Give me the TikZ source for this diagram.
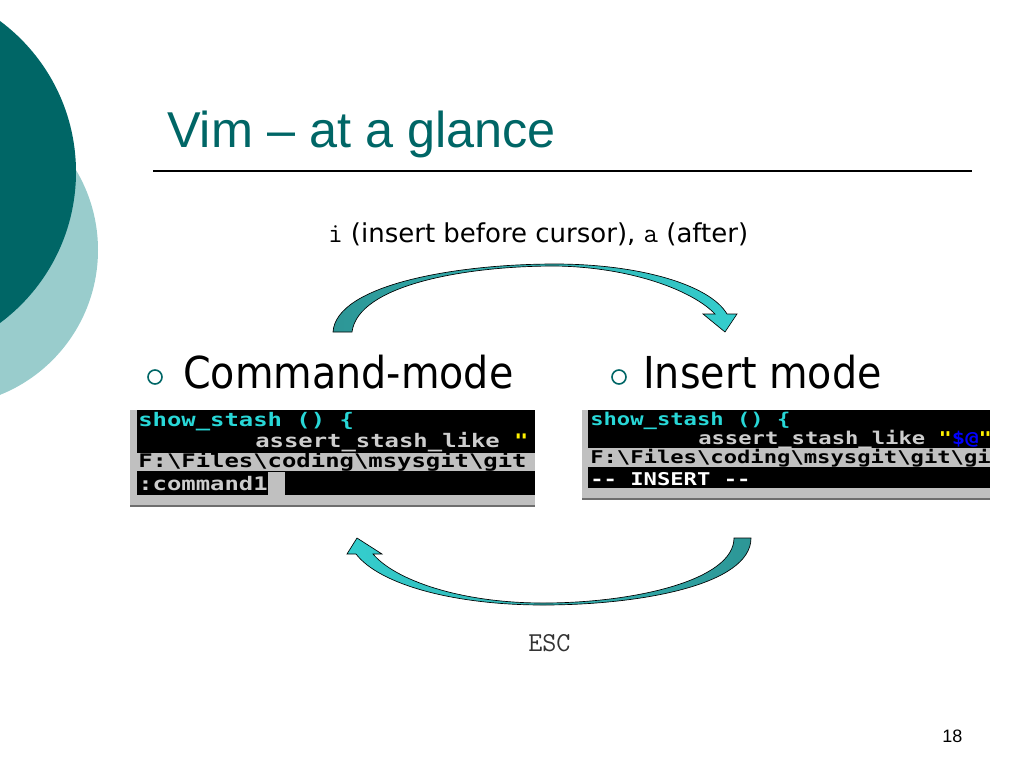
\documentclass[tikz,border=0pt]{standalone}
\usepackage{fontspec}
\setmainfont{DejaVu Sans}
\newfontfamily\titlefont{Liberation Sans}
\newfontfamily\modefont[FakeStretch=0.9]{DejaVu Sans}
\newfontfamily\termfont[FakeStretch=1.28]{DejaVu Sans Mono}
\newfontfamily\termfontR[FakeStretch=1.26]{DejaVu Sans Mono}
\usepackage{xcolor}
\definecolor{slideteal}{RGB}{0,102,102}
\definecolor{paleteal}{RGB}{153,204,204}
\definecolor{arrowdark}{RGB}{45,150,150}
\definecolor{arrowlight}{RGB}{52,206,206}
\definecolor{termcyan}{RGB}{40,215,215}
\definecolor{termgray}{RGB}{192,192,192}
\definecolor{termlight}{RGB}{205,205,205}
\definecolor{frameedge}{RGB}{110,110,110}

\begin{document}
\begin{tikzpicture}[x=0.75pt, y=-0.75pt]
\tikzstyle{every node}=[inner sep=0pt, anchor=base west]
\tikzstyle{termL}=[font=\termfont\bfseries\fontsize{14}{16}\selectfont]
\tikzstyle{termR}=[font=\termfontR\bfseries\fontsize{13.2}{15}\selectfont]
\tikzstyle{modearrow}=[draw=black, line width=0.5pt]
\tikzstyle{bullet}=[draw=slideteal, line width=1.2pt]

\useasboundingbox (0,0) rectangle (1024,768);
\clip (0,0) rectangle (1024,768);

\fill[paleteal] (-58,250) circle [radius=156]; % back circle
\fill[slideteal] (-112,172) circle [radius=188]; % front circle

\node[font=\titlefont\fontsize{37.8}{40}\selectfont, text=slideteal] (title) at (167,147) {Vim – at a glance};
\draw[line width=1.1pt] (153,171) -- (972,171);

\node[font=\fontsize{19.5}{22}\selectfont] (insertkeys) at (328,242) {{\ttfamily\fontsize{21}{22}\selectfont i} (insert before cursor), {\ttfamily\fontsize{21}{22}\selectfont a} (after)};

% i / a arrow
\draw[modearrow, left color=arrowdark, right color=arrowlight]
  (333,332) .. controls (336,285) and (455,264) .. (555,264)
  .. controls (640,264) and (710,285) .. (727,314)
  -- (737,314) -- (725,332) -- (703,314) -- (715,314)
  .. controls (692,290) and (630,267) .. (555,266)
  .. controls (465,266) and (358,285) .. (352,332) -- cycle;

\draw[bullet] (155,377) circle [radius=7];
    \node[font=\modefont\fontsize{33}{36}\selectfont] (cmdmode) at (183,388) {Command-mode};
\draw[bullet] (619,377) circle [radius=7];
    \node[font=\modefont\fontsize{33}{36}\selectfont] (insmode) at (643,388) {Insert mode};

% command-mode screen
\fill[termgray] (130,410) rectangle (535,507);
\draw[frameedge, line width=1.2pt] (130,506) -- (535,506);
\fill[black] (137,410) rectangle (535,495);
\fill[termgray] (137,453) rectangle (535,471);
\fill[termgray] (268,472) rectangle (285,495);
\begin{scope}
\clip (137,410) rectangle (535,495);
\node[termL, text=termcyan] (cl1) at (138,426) {show\_stash () \{};
\node[termL, text=termlight] (cl2) at (255,447) {assert\_stash\_like \textcolor{yellow}{"}};
\node[termL, text=black] (cl3) at (138,467) {F:\textbackslash Files\textbackslash coding\textbackslash msysgit\textbackslash git};
\node[termL, text=termlight] (cl4) at (138,490) {:command1};
\end{scope}

% insert-mode screen
\fill[termgray] (582,410) rectangle (990,500);
\draw[frameedge, line width=1.2pt] (582,499) -- (990,499);
\fill[black] (588,410) rectangle (990,488);
\fill[termgray] (588,448) rectangle (990,467);
\begin{scope}
\clip (588,410) rectangle (990,488);
\node[termR, text=termcyan] (il1) at (590,425) {show\_stash () \{};
\node[termR, text=termlight] (il2) at (698,444) {assert\_stash\_like \textcolor{yellow}{"}\textcolor{blue}{\$@}\textcolor{yellow}{"}};
\node[termR, text=black] (il3) at (590,463) {F:\textbackslash Files\textbackslash coding\textbackslash msysgit\textbackslash git\textbackslash git};
\node[termR, text=white] (il4) at (590,485) {-- INSERT --};
\end{scope}

% ESC arrow
\draw[modearrow, left color=arrowlight, right color=arrowdark]
  (751,538) .. controls (751,585) and (640,605) .. (543,605)
  .. controls (455,605) and (380,585) .. (356,554)
  -- (347,554) -- (357,538) -- (382,554) -- (373,554)
  .. controls (395,580) and (460,603) .. (543,603)
  .. controls (635,603) and (734,580) .. (734,538) -- cycle;

\node[font=\ttfamily\fontsize{20.5}{22}\selectfont, text=black!80] (esc) at (528,651) {ESC};
\node[font=\titlefont\fontsize{13.5}{15}\selectfont] (pagenum) at (942,742) {18};
\end{tikzpicture}
\end{document}
